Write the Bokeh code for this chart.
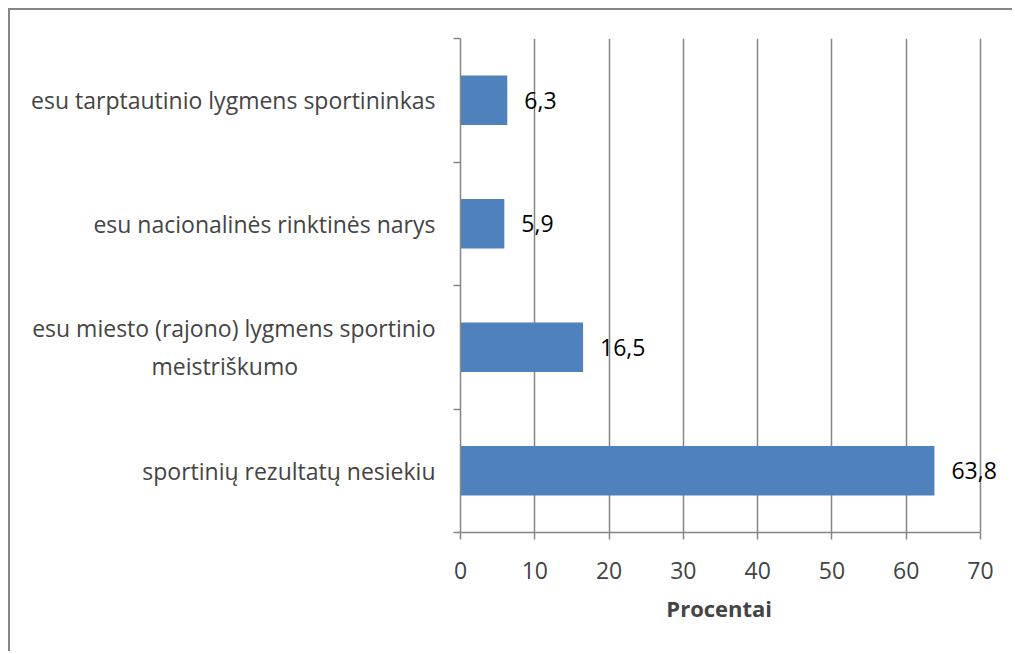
import numpy as np
from bokeh.plotting import figure
from bokeh.models import FixedTicker, ColumnDataSource, LabelSet
from bokeh.core.properties import value
from bokeh.embed import file_html
from bokeh.resources import INLINE

NB = "\u00a0"
categories = [
    "sportinių rezultatų nesiekiu",
    "esu miesto (rajono) lygmens sportinio\nmeistriškumo" + NB * 23,
    "esu nacionalinės rinktinės narys",
    "esu tarptautinio lygmens sportininkas",
]
values = [63.8, 16.5, 5.9, 6.3]
x_ticks = [0, 10, 20, 30, 40, 50, 60, 70]
x_title = "Procentai"

FONT = "Open Sans"
GRAY = "#868686"
BLUE = "#4F81BD"
FS = "23px"

n = len(categories)
pos = [i + 0.5 for i in range(n)]
labels = [f"{v:.1f}".replace(".", ",") for v in values]
src = ColumnDataSource(dict(y=pos, v=values, lab=labels))

p = figure(width=1004, height=643, x_range=(0, 73.5), y_range=(0, n),
           output_backend="svg", toolbar_location=None,
           min_border_left=450, min_border_right=8,
           min_border_top=28, min_border_bottom=121)
p.outline_line_color = None
p.styles = {"border-top": f"2px solid {GRAY}", "border-left": f"2px solid {GRAY}",
            "margin-top": "8px", "margin-left": "8px"}

p.hbar(y="y", right="v", left=0, height=0.4, source=src,
       fill_color=BLUE, line_color=None)
p.add_layout(LabelSet(x="v", y="y", text="lab", source=src, x_offset=17,
                      text_baseline="middle", text_align="left",
                      text_font=value(FONT), text_font_size=FS,
                      text_color="black"))

# x axis
p.xaxis.ticker = FixedTicker(ticks=x_ticks)
p.xaxis.bounds = (0, 70)
p.xaxis.axis_label = x_title + NB * 5
p.xaxis.axis_label_text_font = FONT
p.xaxis.axis_label_text_font_style = "bold"
p.xaxis.axis_label_text_font_size = "22px"
p.xaxis.axis_label_standoff = 11
p.xaxis.major_label_text_font = FONT
p.xaxis.major_label_text_font_size = FS
p.xaxis.major_label_standoff = 22
p.xaxis.major_tick_in = 0
p.xaxis.major_tick_out = 7
p.xaxis.minor_tick_line_color = None
p.xaxis.axis_line_color = GRAY
p.xaxis.axis_line_width = 1.5
p.xaxis.major_tick_line_color = GRAY
p.xaxis.major_tick_line_width = 1.5

# y axis: labels at band centers, tick marks at band boundaries
p.yaxis.ticker = FixedTicker(ticks=pos, minor_ticks=list(range(n + 1)))
p.yaxis.major_label_overrides = {pv: c for pv, c in zip(pos, categories)}
p.yaxis.major_label_text_font = FONT
p.yaxis.major_label_text_font_size = FS
p.yaxis.major_label_standoff = 18
p.yaxis.major_tick_line_color = None
p.yaxis.minor_tick_in = 0
p.yaxis.minor_tick_out = 7
p.yaxis.minor_tick_line_color = GRAY
p.yaxis.minor_tick_line_width = 1.5
p.yaxis.axis_line_color = GRAY
p.yaxis.axis_line_width = 1.5

p.xgrid.ticker = FixedTicker(ticks=x_ticks)
p.xgrid.grid_line_color = GRAY
p.xgrid.grid_line_width = 1.5
p.ygrid.grid_line_color = None

open("out.html", "w").write(file_html(p, INLINE))
